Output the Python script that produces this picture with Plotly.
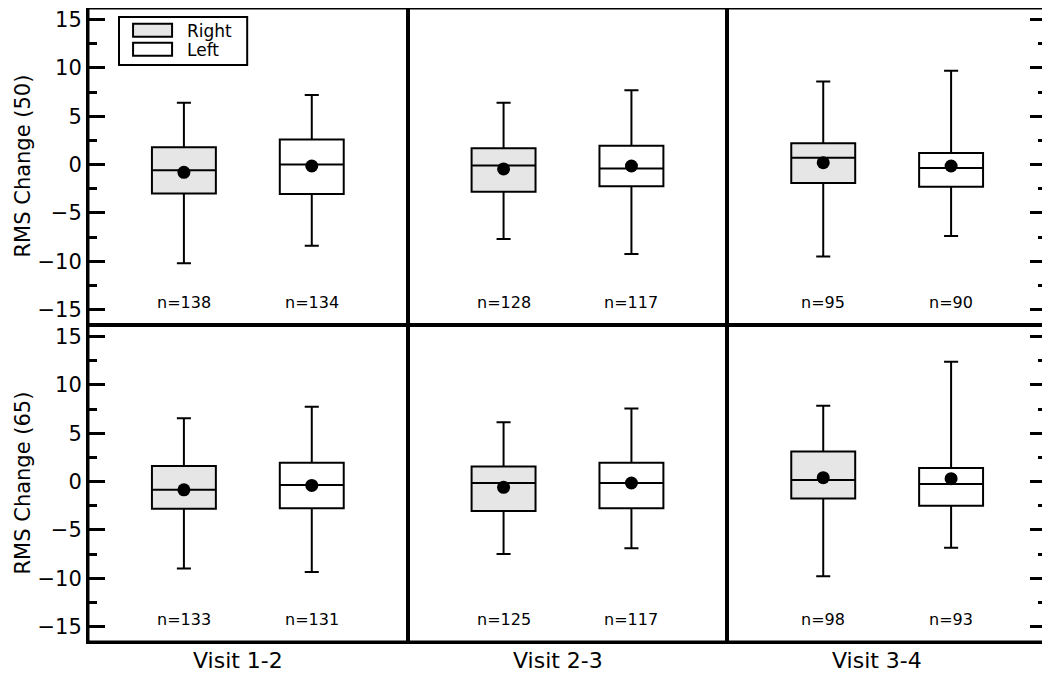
import plotly.graph_objects as go
from plotly.subplots import make_subplots

visits = ["Visit 1-2", "Visit 2-3", "Visit 3-4"]
row_titles = ["RMS Change (50)", "RMS Change (65)"]
groups = ["Right", "Left"]

# row 1: RMS change (50)
right_50_upper = [6.4, 6.4, 8.6]
right_50_q3 = [1.8, 1.7, 2.2]
right_50_median = [-0.6, -0.1, 0.7]
right_50_q1 = [-3.0, -2.8, -1.9]
right_50_lower = [-10.2, -7.7, -9.5]
right_50_mean = [-0.8, -0.45, 0.2]
right_50_n = [138, 128, 95]

left_50_upper = [7.2, 7.7, 9.7]
left_50_q3 = [2.6, 1.95, 1.2]
left_50_median = [0.0, -0.4, -0.35]
left_50_q1 = [-3.05, -2.25, -2.3]
left_50_lower = [-8.4, -9.25, -7.4]
left_50_mean = [-0.15, -0.15, -0.15]
left_50_n = [134, 117, 90]

# row 2: RMS change (65)
right_65_upper = [6.55, 6.15, 7.85]
right_65_q3 = [1.6, 1.55, 3.1]
right_65_median = [-0.85, -0.15, 0.15]
right_65_q1 = [-2.8, -3.05, -1.75]
right_65_lower = [-9.0, -7.5, -9.8]
right_65_mean = [-0.85, -0.6, 0.4]
right_65_n = [133, 125, 98]

left_65_upper = [7.75, 7.55, 12.4]
left_65_q3 = [1.95, 1.95, 1.4]
left_65_median = [-0.35, -0.15, -0.25]
left_65_q1 = [-2.75, -2.75, -2.5]
left_65_lower = [-9.35, -6.9, -6.85]
left_65_mean = [-0.4, -0.15, 0.3]
left_65_n = [131, 117, 93]

rows_data = [
    [
        (right_50_lower, right_50_q1, right_50_median, right_50_q3, right_50_upper, right_50_mean, right_50_n),
        (left_50_lower, left_50_q1, left_50_median, left_50_q3, left_50_upper, left_50_mean, left_50_n),
    ],
    [
        (right_65_lower, right_65_q1, right_65_median, right_65_q3, right_65_upper, right_65_mean, right_65_n),
        (left_65_lower, left_65_q1, left_65_median, left_65_q3, left_65_upper, left_65_mean, left_65_n),
    ],
]
fills = ["#e6e6e6", "white"]
FONT = "DejaVu Sans"

fig = make_subplots(rows=2, cols=3, horizontal_spacing=0, vertical_spacing=0)

for r, row in enumerate(rows_data):
    for c in range(3):
        for g, (lo, q1, med, q3, up, mean, n) in enumerate(row):
            xpos = g + 1
            fig.add_trace(go.Box(
                x=[xpos], lowerfence=[lo[c]], q1=[q1[c]], median=[med[c]],
                q3=[q3[c]], upperfence=[up[c]], width=0.5, whiskerwidth=0.22,
                fillcolor=fills[g], line=dict(color="black", width=2),
                boxpoints=False, showlegend=False, name=groups[g],
            ), row=r + 1, col=c + 1)
            fig.add_trace(go.Scatter(
                x=[xpos], y=[mean[c]], mode="markers",
                marker=dict(color="black", size=13), showlegend=False,
            ), row=r + 1, col=c + 1)
            fig.add_annotation(
                x=xpos, y=-14.3, text="n=%d" % n[c], showarrow=False,
                yanchor="middle",
                font=dict(family=FONT, size=16, color="black"),
                row=r + 1, col=c + 1,
            )

for i in range(1, 7):
    c = (i - 1) % 3
    fig.update_layout(**{
        "xaxis%d" % i: dict(range=[0.25, 2.75], showticklabels=False, ticks="",
                            showgrid=False, zeroline=False, showline=True,
                            linecolor="black", linewidth=2, mirror=True),
    })
    yax = dict(range=[-16.6, 16.2], showgrid=False, zeroline=False,
               showline=True, linecolor="black", linewidth=2, mirror=True,
               tickvals=[-15, -10, -5, 0, 5, 10, 15])
    if c == 0:
        yax.update(ticks="inside", ticklen=17, tickwidth=3, tickcolor="black",
                   showticklabels=True, ticklabeloverflow="allow",
                   tickfont=dict(family=FONT, size=21, color="black"),
                   minor=dict(ticks="inside", ticklen=9, tickwidth=3,
                              tickcolor="black", dtick=2.5, tick0=0))
    elif c == 2:
        yax.update(side="right", ticks="inside", ticklen=17, tickwidth=3,
                   tickcolor="black", showticklabels=False,
                   minor=dict(ticks="inside", ticklen=9, tickwidth=3,
                              tickcolor="black", dtick=2.5, tick0=0))
    else:
        yax.update(ticks="", showticklabels=False)
    fig.update_layout(**{"yaxis%d" % i: yax})

# row titles
for r, t in enumerate(row_titles):
    fig.add_annotation(
        text=t, textangle=-90, showarrow=False, xref="paper", x=0,
        xanchor="center", xshift=-66, yref="y%s domain" % ("" if r == 0 else 4),
        y=0.5, yanchor="middle", font=dict(family=FONT, size=21, color="black"),
    )

# column titles
for c, v in enumerate(visits):
    fig.add_annotation(
        text=v, showarrow=False, xref="x%s domain" % ("" if c == 0 else c + 1),
        x=0.5, xshift=-10, yref="paper", y=0, yanchor="middle", yshift=-18,
        font=dict(family=FONT, size=22, color="black"),
    )

# legend in the first panel
fig.add_shape(type="rect", xref="x domain", yref="y domain",
              x0=0.097, x1=0.498, y0=0.820, y1=0.972, opacity=1,
              line=dict(color="black", width=2), fillcolor="white")
for g, (ya, yb, yc) in enumerate([(0.909, 0.950, 0.929), (0.849, 0.890, 0.869)]):
    fig.add_shape(type="rect", xref="x domain", yref="y domain",
                  x0=0.141, x1=0.263, y0=ya, y1=yb, opacity=1,
                  line=dict(color="black", width=2), fillcolor=fills[g])
    fig.add_annotation(text=groups[g], showarrow=False, xref="x domain",
                       yref="y domain", x=0.304, y=yc, xanchor="left",
                       yanchor="middle",
                       font=dict(family=FONT, size=17, color="black"))

# heavy outer frame and middle divider
fig.add_shape(type="rect", xref="paper", yref="paper", x0=0, x1=1, y0=0, y1=1,
              opacity=1, fillcolor="rgba(0,0,0,0)",
              line=dict(color="black", width=3))
fig.add_shape(type="line", xref="paper", yref="paper", x0=0, x1=1, y0=0.5, y1=0.5,
              opacity=1, line=dict(color="black", width=3))

# the page body adds an 8px margin, so the figure is sized to fit the window
fig.update_layout(
    width=1042, height=667, template="none",
    paper_bgcolor="white", plot_bgcolor="white",
    margin=dict(l=80, r=3, t=0, b=33), showlegend=False,
    boxmode="overlay",
)

fig.write_html("out.html")
